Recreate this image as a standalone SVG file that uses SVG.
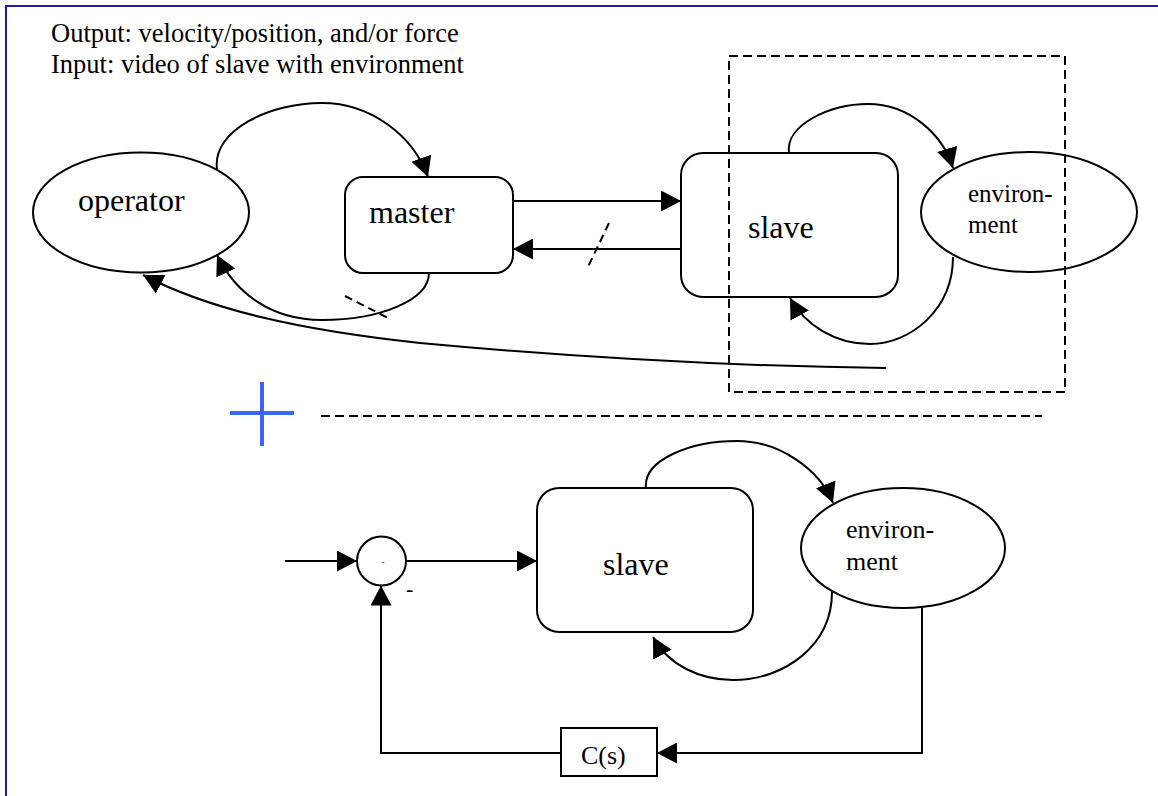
<svg xmlns="http://www.w3.org/2000/svg" width="1158" height="796" viewBox="0 0 1158 796">
<style>
  .shape { fill: #ffffff; stroke: #000000; stroke-width: 2; }
  .conn { fill: none; stroke: #000000; stroke-width: 2; }
  .dash { fill: none; stroke: #000000; stroke-width: 2; stroke-dasharray: 9 5; }
  .slash { fill: none; stroke: #000000; stroke-width: 2; stroke-dasharray: 8 5; }
  text { font-family: "Liberation Serif", "Times New Roman", serif; fill: #000000; }
</style>
<defs>
  <marker id="arrow" markerUnits="userSpaceOnUse" markerWidth="21" markerHeight="21" viewBox="0 0 21 21" refX="20" refY="10.5" orient="auto">
    <path d="M0,0 L20,10.5 L0,21 z" fill="#000000"/>
  </marker>
</defs>

<rect x="6" y="6" width="1200" height="900" fill="none" stroke="#1f1f99" stroke-width="2"/>

<g id="notes">
  <text x="51" y="42" font-family="Liberation Serif, Times New Roman, serif" font-size="26.5">Output: velocity/position, and/or force</text>
  <text x="51" y="73" font-family="Liberation Serif, Times New Roman, serif" font-size="26.5">Input: video of slave with environment</text>
</g>

<g id="operator">
  <ellipse class="shape" cx="141" cy="212.5" rx="108" ry="60"/>
  <text x="78" y="211" font-family="Liberation Serif, Times New Roman, serif" font-size="32">operator</text>
</g>

<g id="master">
  <rect class="shape" x="345" y="177" width="168" height="96" rx="18" ry="18"/>
  <text x="369" y="223" font-family="Liberation Serif, Times New Roman, serif" font-size="32">master</text>
</g>

<g id="slave-top">
  <rect class="shape" x="681" y="153" width="217" height="144" rx="22" ry="22"/>
  <text x="748" y="238" font-family="Liberation Serif, Times New Roman, serif" font-size="32">slave</text>
</g>

<g id="environment-top">
  <ellipse class="shape" cx="1029" cy="212" rx="108" ry="60"/>
  <text x="968" y="202" font-family="Liberation Serif, Times New Roman, serif" font-size="25">environ-</text>
  <text x="968" y="233" font-family="Liberation Serif, Times New Roman, serif" font-size="25">ment</text>
</g>

<g id="teleop-boundary">
  <rect class="dash" x="729" y="56" width="336" height="336"/>
</g>

<g id="separator">
  <line x1="262" y1="382" x2="262" y2="446" stroke="#3a66ff" stroke-width="4"/>
  <line x1="230" y1="413" x2="294" y2="413" stroke="#3a66ff" stroke-width="4"/>
  <line class="dash" x1="321" y1="416" x2="1042" y2="416"/>
</g>

<g id="slave-bottom">
  <rect class="shape" x="537" y="488" width="216" height="144" rx="22" ry="22"/>
  <text x="603" y="575" font-family="Liberation Serif, Times New Roman, serif" font-size="32">slave</text>
</g>

<g id="environment-bottom">
  <ellipse class="shape" cx="903" cy="548" rx="102" ry="60"/>
  <text x="846" y="538" font-family="Liberation Serif, Times New Roman, serif" font-size="26">environ-</text>
  <text x="846" y="570" font-family="Liberation Serif, Times New Roman, serif" font-size="26">ment</text>
</g>

<g id="summing-junction">
  <circle class="shape" cx="381.5" cy="561" r="24.5"/>
  <text x="383" y="565" font-family="Liberation Serif, Times New Roman, serif" font-size="9" text-anchor="middle">-</text>
  <text x="406" y="596" font-family="Liberation Serif, Times New Roman, serif" font-size="22">-</text>
</g>

<g id="controller">
  <rect class="shape" x="561" y="728" width="96" height="48"/>
  <text x="581" y="764" font-family="Liberation Serif, Times New Roman, serif" font-size="26">C(s)</text>
</g>

<g id="connectors">
  <path class="conn" d="M217,169 C212,130 270,103 322,103 C370,103 413,135 428,177" marker-end="url(#arrow)"/>
  <path class="conn" d="M429,273 C429,300 380,320 322,320 C270,320 235,292 217,255" marker-end="url(#arrow)"/>
  <path class="conn" d="M886,368 C720,366 560,356 420,343 C300,330 210,310 143,275" marker-end="url(#arrow)"/>
  <path class="conn" d="M513,201 L681,201" marker-end="url(#arrow)"/>
  <path class="conn" d="M681,249 L513,249" marker-end="url(#arrow)"/>
  <path class="conn" d="M789,153 C785,125 830,104 868,104 C910,104 943,135 953,168" marker-end="url(#arrow)"/>
  <path class="conn" d="M953,257 C953,310 910,344 870,344 C835,344 805,325 790,298" marker-end="url(#arrow)"/>
  <line class="slash" x1="609" y1="223" x2="587" y2="269"/>
  <line class="slash" x1="345" y1="296" x2="390" y2="319"/>

  <path class="conn" d="M646,488 C643,460 690,441 737,441 C780,441 820,470 833,503" marker-end="url(#arrow)"/>
  <path class="conn" d="M832,592 C832,645 785,680 733,680 C700,680 668,665 653,637" marker-end="url(#arrow)"/>
  <path class="conn" d="M285,561 L357,561" marker-end="url(#arrow)"/>
  <path class="conn" d="M406,561 L537,561" marker-end="url(#arrow)"/>
  <path class="conn" d="M922,608 L922,753 L657,753" marker-end="url(#arrow)"/>
  <path class="conn" d="M561,753 L381,753 L381,585.5" marker-end="url(#arrow)"/>
</g>
</svg>
